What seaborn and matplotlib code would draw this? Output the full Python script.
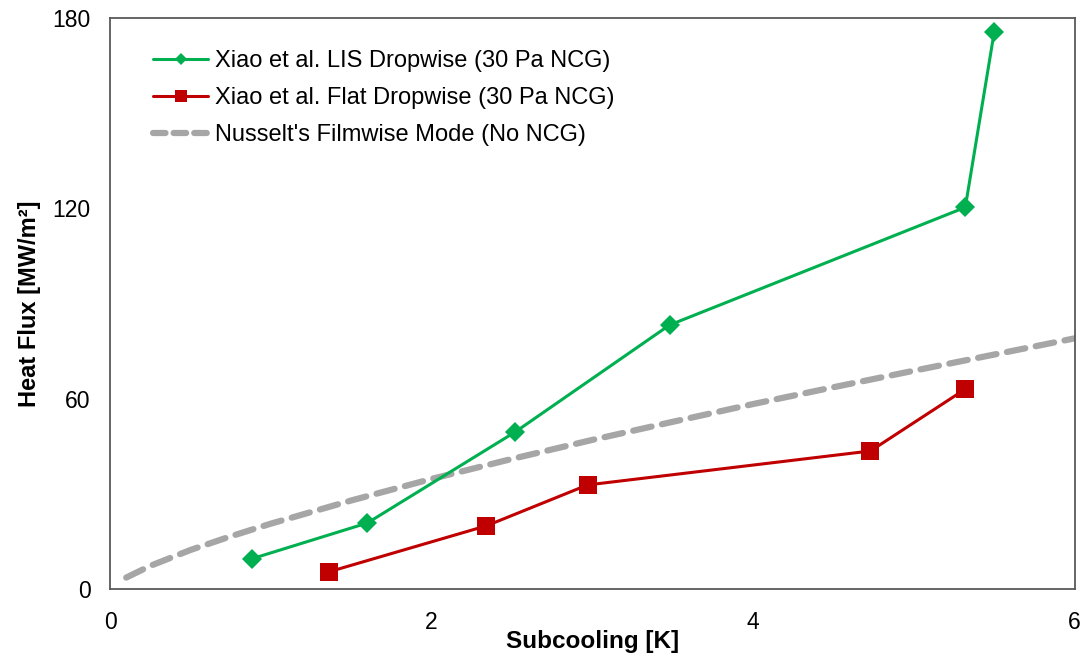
import matplotlib
matplotlib.use("Agg")
import matplotlib.pyplot as plt
import seaborn as sns
from matplotlib.lines import Line2D

# Data
lis_x = [0.88, 1.60, 2.52, 3.48, 5.32, 5.50]
lis_y = [9.5, 20.8, 49.5, 83.2, 120.3, 175.6]

flat_x = [1.36, 2.34, 2.97, 4.73, 5.32]
flat_y = [5.4, 19.9, 32.8, 43.5, 63.0]

nusselt_x = [0.1, 0.25, 0.5, 0.75, 1.0, 1.5, 2.0, 2.5, 3.0, 3.5, 4.0, 4.5, 5.0, 5.5, 6.0]
nusselt_y = [3.6, 7.3, 12.3, 16.6, 20.6, 27.9, 34.7, 41.0, 47.0, 52.7, 58.3, 63.6, 68.8, 73.9, 79.0]

x_ticks = [0, 2, 4, 6]
y_ticks = [0, 60, 120, 180]

labels = ["Xiao et al. LIS Dropwise (30 Pa NCG)",
          "Xiao et al. Flat Dropwise (30 Pa NCG)",
          "Nusselt's Filmwise Mode (No NCG)"]

GREEN = "#00B050"
RED = "#C00000"
GRAY = "#A6A6A6"

sns.set_theme(style="white")
plt.rcParams['font.family'] = ['Liberation Sans', 'DejaVu Sans']
plt.rcParams['text.color'] = 'black'

fig = plt.figure(figsize=(10.8, 6.6), dpi=100)
ax = fig.add_axes([0.102, 0.1076, 0.893, 0.8652])

sns.lineplot(x=nusselt_x, y=nusselt_y, ax=ax, color=GRAY, linewidth=4.5,
             dashes=False, estimator=None, sort=False)
ax.lines[-1].set_dashes([3.0, 1.7])
ax.lines[-1].set_dash_capstyle('round')

sns.lineplot(x=lis_x, y=lis_y, ax=ax, color=GREEN, linewidth=2.2,
             marker='D', markersize=10.5, markeredgewidth=0,
             estimator=None, sort=False)
sns.lineplot(x=flat_x, y=flat_y, ax=ax, color=RED, linewidth=2.2,
             marker='s', markersize=12.5, markeredgewidth=0,
             estimator=None, sort=False)

ax.set_xlim(0, 6)
ax.set_ylim(0, 180)
ax.set_xticks(x_ticks)
ax.set_yticks(y_ticks)
ax.set_xticklabels([str(v) for v in x_ticks])
ax.set_yticklabels([str(v) for v in y_ticks])
ax.tick_params(axis='both', direction='in', length=6, width=1.2,
               color='#404040', labelsize=16.5, labelcolor='#000000')
ax.tick_params(axis='x', pad=16)
ax.tick_params(axis='y', pad=14)

for sp in ax.spines.values():
    sp.set_color('#595959')
    sp.set_linewidth(1.3)
    sp.set_visible(True)

ax.set_xlabel("Subcooling [K]", fontsize=17.5, fontweight='bold', labelpad=-3, color='black')
ax.set_ylabel("Heat Flux [MW/m²]", fontsize=17, fontweight='bold', labelpad=8, color='black')

handles = [
    Line2D([], [], color=GREEN, linewidth=2.2, marker='D', markersize=6, markeredgewidth=0),
    Line2D([], [], color=RED, linewidth=2.2, marker='s', markersize=8, markeredgewidth=0),
    Line2D([], [], color=GRAY, linewidth=4.5, dashes=[2.0, 1.3], dash_capstyle='round'),
]
leg = ax.legend(handles, labels, loc='upper left', bbox_to_anchor=(0.035, 0.96),
                frameon=False, fontsize=17, handlelength=2.3, handletextpad=0.3,
                labelspacing=0.64, borderaxespad=0)
for t in leg.get_texts():
    t.set_color('black')

fig.savefig("out.png", dpi=100)
